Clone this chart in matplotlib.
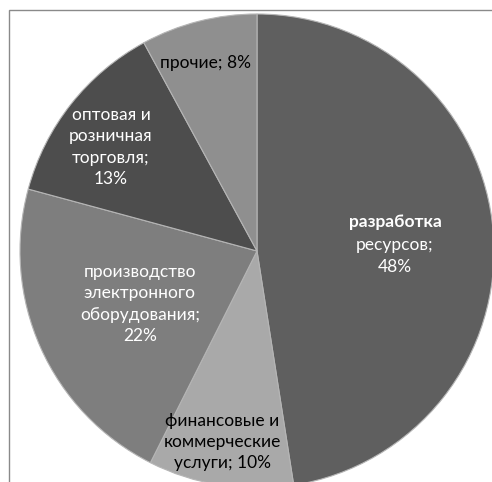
import matplotlib
matplotlib.use('Agg')
import matplotlib.pyplot as plt
from matplotlib.patches import Rectangle

# Data
labels = ['разработка\nресурсов;\n48%',
          'финансовые и\nкоммерческие\nуслуги; 10%',
          'производство\nэлектронного\nоборудования;\n22%',
          'оптовая и\nрозничная\nторговля;\n13%',
          'прочие; 8%']
shares = [48, 10, 22, 13, 8]

# Styling
colors = ['#5f5f5f', '#a9a9a9', '#7e7e7e', '#4d4d4d', '#8f8f8f']
text_colors = ['white', 'black', 'white', 'white', 'black']
weights = ['bold', 'normal', 'normal', 'normal', 'normal']
label_pos = [(395, 244), (222, 442), (140, 304), (111, 147), (205, 63)]
FS = 12.5
LS = 1.42

W, H = 492, 482
fig = plt.figure(figsize=(W / 100, H / 100), dpi=100)
ax = fig.add_axes([0, 0, 1, 1])

# Chart area border (clipped by the figure edges)
ax.add_patch(Rectangle((9, -20), W + 40, H - 10 + 20, fill=False,
                       edgecolor='#8a8a8a', linewidth=1.0))

# Pie, centre and radius in pixel units; it spills over the right and bottom
ax.pie(shares, colors=colors, startangle=90, counterclock=False,
       center=(257, H - 251), radius=237,
       wedgeprops=dict(linewidth=0.8, edgecolor='#b5b5b5'),
       frame=True)
ax.set_xlim(0, W)
ax.set_ylim(0, H)
ax.set_aspect('equal')
ax.axis('off')

for lab, (px, py), tc, fw in zip(labels, label_pos, text_colors, weights):
    if fw == 'bold':
        first, rest = lab.split('\n', 1)
        ax.text(px, H - py + 22, first, ha='center', va='center', color=tc,
                fontsize=FS, fontweight='bold', family='Lato')
        ax.text(px, H - py - 12, rest, ha='center', va='center', color=tc,
                fontsize=FS, family='Lato', linespacing=LS)
    else:
        ax.text(px, H - py, lab, ha='center', va='center', color=tc,
                fontsize=FS, family='Lato', linespacing=LS)

fig.savefig('out.png', dpi=100)
